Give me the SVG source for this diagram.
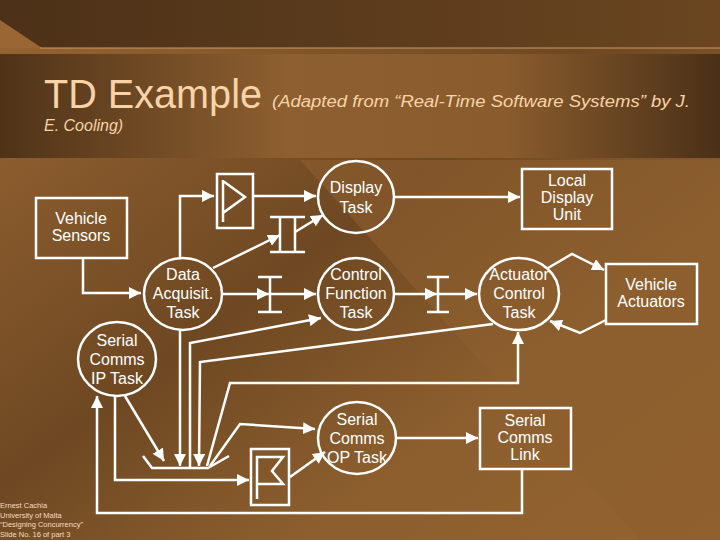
<svg xmlns="http://www.w3.org/2000/svg" width="720" height="540" viewBox="0 0 720 540">
<defs>
<linearGradient id="bg" x1="0" y1="0" x2="1" y2="1">
<stop offset="0" stop-color="#9a6634"/><stop offset="0.45" stop-color="#6e4822"/><stop offset="0.7" stop-color="#8c5e2e"/><stop offset="1" stop-color="#93642f"/>
</linearGradient>
<linearGradient id="band" x1="0" y1="0" x2="1" y2="0">
<stop offset="0" stop-color="#4f3318"/><stop offset="0.4" stop-color="#8e5f30"/><stop offset="0.7" stop-color="#8a5c2d"/><stop offset="1" stop-color="#4a3017"/>
</linearGradient>
<linearGradient id="top" x1="0" y1="0" x2="1" y2="0">
<stop offset="0" stop-color="#4c3118"/><stop offset="1" stop-color="#6a4520"/>
</linearGradient>
<marker id="ab" viewBox="0 0 10 10" refX="10" refY="5" markerWidth="12" markerHeight="12" orient="auto" markerUnits="userSpaceOnUse"><path d="M0,0 L10,5 L0,10 z" fill="#fff"/></marker>
<style>
.n{fill:none;stroke:#fff;stroke-width:2.5}
.l{fill:none;stroke:#fff;stroke-width:2.5}
.t{fill:#fff;font-family:"Liberation Sans",Arial,sans-serif;font-size:16px;text-anchor:middle}
.f{fill:#f5dcc0;font-family:"Liberation Sans",Arial,sans-serif;font-size:7.5px}
</style>
</defs>
<rect width="720" height="540" fill="url(#bg)"/>
<polygon points="300,160 720,160 720,540 640,540" fill="#8d5f2f" opacity="0.6"/>
<rect width="720" height="48" fill="url(#top)"/>
<polygon points="0,20 0,48 42,48" fill="#9a6634"/>
<line x1="40" y1="48" x2="720" y2="48" stroke="#c99a66" stroke-width="1"/>
<rect x="0" y="54" width="720" height="104" fill="url(#band)"/>
<text x="44" y="108" font-family="'Liberation Sans',Arial,sans-serif" font-size="40" fill="#f8d3a8" textLength="218" lengthAdjust="spacingAndGlyphs">TD Example</text>
<text x="272" y="107" font-family="'Liberation Sans',Arial,sans-serif" font-size="16" font-style="italic" fill="#f8d3a8" textLength="418" lengthAdjust="spacingAndGlyphs">(Adapted from “Real-Time Software Systems” by J.</text>
<text x="44" y="131" font-family="'Liberation Sans',Arial,sans-serif" font-size="16" font-style="italic" fill="#f8d3a8">E. Cooling)</text>

<g id="connectors">
<polyline class="l" points="83,258 83,293 141,293" marker-end="url(#ab)"/>
<polyline class="l" points="180,258 180,196 214,196" marker-end="url(#ab)"/>
<line class="l" x1="253" y1="196" x2="316" y2="196" marker-end="url(#ab)"/>
<line class="l" x1="395" y1="197" x2="520" y2="197" marker-end="url(#ab)"/>
<line class="l" x1="213" y1="268" x2="280" y2="235" marker-end="url(#ab)"/>
<line class="l" x1="295" y1="232" x2="323" y2="215" marker-end="url(#ab)"/>
<line class="l" x1="223" y1="294" x2="269" y2="294" marker-end="url(#ab)"/>
<line class="l" x1="270" y1="294" x2="316" y2="294" marker-end="url(#ab)"/>
<line class="l" x1="395" y1="294" x2="437" y2="294" marker-end="url(#ab)"/>
<line class="l" x1="438" y1="294" x2="477" y2="294" marker-end="url(#ab)"/>
<polyline class="l" points="548,268 572,254 604,270" marker-end="url(#ab)"/>
<polyline class="l" points="606,320 580,333 550,321" marker-end="url(#ab)"/>
<line class="l" x1="180" y1="330" x2="180" y2="466" marker-end="url(#ab)"/>
<polyline class="l" points="190,468 190,343 321,318" marker-end="url(#ab)"/>
<polyline class="l" points="493,324 200,362 199,466" marker-end="url(#ab)"/>
<polyline class="l" points="207,466 230,383 518,383 518,332" marker-end="url(#ab)"/>
<polyline class="l" points="210,466 240,424 315,429" marker-end="url(#ab)"/>
<line class="l" x1="125" y1="396" x2="164" y2="461" marker-end="url(#ab)"/>
<polyline class="l" points="115,396 115,480 249,480" marker-end="url(#ab)"/>
<line class="l" x1="290" y1="477" x2="325" y2="452" marker-end="url(#ab)"/>
<line class="l" x1="397" y1="438" x2="478" y2="438" marker-end="url(#ab)"/>
<polyline class="l" points="522,469 522,513 97,513 97,396" marker-end="url(#ab)"/>
</g>

<g id="vehicle-sensors"><rect class="n" x="36" y="198" width="91" height="60"/><text class="t" x="81" y="224">Vehicle</text><text class="t" x="81" y="241">Sensors</text></g>
<g id="pool-top"><rect class="n" x="217" y="174" width="36" height="54"/><polyline class="n" points="223,180 223,222 223,213 245,197 223,181"/></g>
<g id="display-task"><ellipse class="n" cx="356" cy="197" rx="38" ry="36"/><text class="t" x="356" y="193">Display</text><text class="t" x="356" y="213">Task</text></g>
<g id="local-display"><rect class="n" x="522" y="169" width="90" height="60"/><text class="t" x="567" y="186">Local</text><text class="t" x="567" y="203">Display</text><text class="t" x="567" y="220">Unit</text></g>
<g id="data-acq"><ellipse class="n" cx="183" cy="294" rx="39" ry="36"/><text class="t" x="183" y="280">Data</text><text class="t" x="183" y="299">Acquisit.</text><text class="t" x="183" y="318">Task</text></g>
<g id="control-fn"><ellipse class="n" cx="356" cy="294" rx="38" ry="36"/><text class="t" x="356" y="280">Control</text><text class="t" x="356" y="299">Function</text><text class="t" x="356" y="318">Task</text></g>
<g id="actuator-control"><ellipse class="n" cx="519" cy="294" rx="40" ry="36"/><text class="t" x="519" y="280">Actuator</text><text class="t" x="519" y="299">Control</text><text class="t" x="519" y="318">Task</text></g>
<g id="vehicle-actuators"><rect class="n" x="606" y="264" width="91" height="60"/><text class="t" x="651" y="290">Vehicle</text><text class="t" x="651" y="307">Actuators</text></g>
<g id="chan-1"><line class="n" x1="270" y1="217" x2="305" y2="217"/><line class="n" x1="270" y1="252" x2="305" y2="252"/><line class="n" x1="280" y1="217" x2="280" y2="252"/><line class="n" x1="295" y1="217" x2="295" y2="252"/></g>
<g id="chan-2"><line class="n" x1="258" y1="277" x2="282" y2="277"/><line class="n" x1="258" y1="312" x2="282" y2="312"/><line class="n" x1="270" y1="277" x2="270" y2="312"/></g>
<g id="chan-3"><line class="n" x1="427" y1="277" x2="449" y2="277"/><line class="n" x1="427" y1="312" x2="449" y2="312"/><line class="n" x1="438" y1="277" x2="438" y2="312"/></g>
<g id="serial-ip"><ellipse class="n" cx="117" cy="359" rx="39" ry="37"/><text class="t" x="117" y="346">Serial</text><text class="t" x="117" y="365">Comms</text><text class="t" x="117" y="384">IP Task</text></g>
<g id="collector"><polyline class="n" points="143,456 152,468 208,468 229,456"/></g>
<g id="pool-bottom"><rect class="n" x="251" y="449" width="38" height="56"/><polyline class="n" points="257,499 257,457 283,457 272,471 283,484 257,484"/></g>
<g id="serial-op"><ellipse class="n" cx="357" cy="438" rx="39" ry="36"/><text class="t" x="357" y="425">Serial</text><text class="t" x="357" y="444">Comms</text><text class="t" x="357" y="463">OP Task</text></g>
<g id="serial-link"><rect class="n" x="480" y="408" width="91" height="61"/><text class="t" x="525" y="426">Serial</text><text class="t" x="525" y="443">Comms</text><text class="t" x="525" y="460">Link</text></g>

<text class="f" x="0" y="508">Ernest Cachia</text>
<text class="f" x="0" y="518">University of Malta</text>
<text class="f" x="0" y="527">“Designing Concurrency”</text>
<text class="f" x="0" y="537">Slide No. 16 of part 3</text>
</svg>
